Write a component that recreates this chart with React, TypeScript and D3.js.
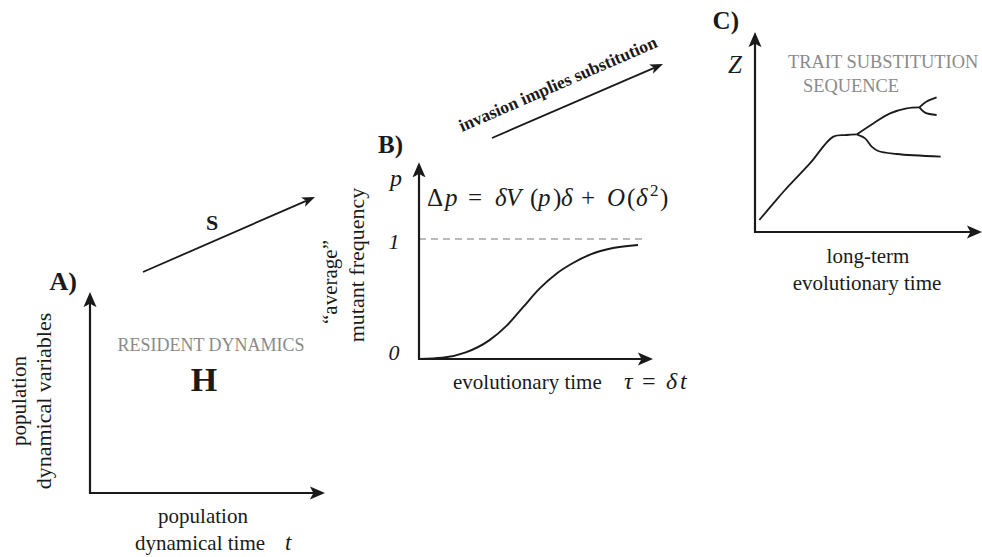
import React from 'react';
import * as d3 from 'd3';

const W = 982;
const H = 557;

// Panel B: sigmoid trajectory of "average" mutant frequency over evolutionary time
const bTime = [0, 1, 2, 3, 3.76, 4.44, 5.17, 5.9, 6.58, 7.31, 8.29, 9.36];
const bFreq = [0, 0.01, 0.055, 0.155, 0.28, 0.43, 0.59, 0.715, 0.8, 0.87, 0.925, 0.95];
const bTickValues = [0, 1];
const bTickLabels = ['0', '1'];

// Panel C: trait substitution sequence (time, trait)
const cTrunkT = [1.9, 8.1, 13.2, 24.2, 34.5, 40.4, 44.8];
const cTrunkZ = [6, 14.3, 21, 34.3, 47.7, 48.5, 48.8];
const cUpperT = [44.8, 52.1, 59.5, 66.8, 72.4];
const cUpperZ = [48.8, 54.3, 59.3, 61.8, 62.3];
const cUpperUpT = [72.4, 75.6, 80];
const cUpperUpZ = [62.3, 65.2, 67.3];
const cUpperDownT = [72.4, 74.9, 80];
const cUpperDownZ = [62.3, 59.7, 58.5];
const cLowerT = [44.8, 48.5, 51.4, 54.3, 62.4, 81.8];
const cLowerZ = [48.8, 46.8, 42.7, 40.5, 39, 37.7];

const SERIF = "'Liberation Serif', 'Times New Roman', serif";
const INK = '#1a1a1a';
const GREY = '#8a8a8a';

function arrowHead(x: number, y: number, angleDeg: number, len = 15, half = 6.5, notch = 4) {
  const a = (angleDeg * Math.PI) / 180;
  const ux = Math.cos(a), uy = Math.sin(a);
  const px = -uy, py = ux;
  const bx = x - ux * len, by = y - uy * len;
  const nx = x - ux * (len - notch), ny = y - uy * (len - notch);
  return `M${x},${y}L${bx + px * half},${by + py * half}Q${nx - ux * 1},${ny - uy * 1} ${nx},${ny}Q${nx - ux * 1},${ny - uy * 1} ${bx - px * half},${by - py * half}Z`;
}

function Arrow({ x1, y1, x2, y2, w = 2.2, len = 15, half = 6.5 }: any) {
  const ang = (Math.atan2(y2 - y1, x2 - x1) * 180) / Math.PI;
  const d = Math.hypot(x2 - x1, y2 - y1);
  const t = (d - (len - 4)) / d;
  return (
    <g>
      <line x1={x1} y1={y1} x2={x1 + (x2 - x1) * t} y2={y1 + (y2 - y1) * t} stroke={INK} strokeWidth={w} />
      <path d={arrowHead(x2, y2, ang, len, half)} fill={INK} />
    </g>
  );
}

function T(p: any) {
  const { style, ...rest } = p;
  return <text fill={INK} {...rest} style={{ fontFamily: SERIF, whiteSpace: 'pre', ...(style || {}) }} />;
}

export default function App() {
  const xA = d3.scaleLinear().domain([0, 1]).range([90, 325]);
  const yA = d3.scaleLinear().domain([0, 1]).range([493, 292]);
  const xB = d3.scaleLinear().domain([0, 10]).range([419, 653]);
  const yB = d3.scaleLinear().domain([0, 1]).range([359, 239]);
  const xC = d3.scaleLinear().domain([0, 100]).range([755, 982]);
  const yC = d3.scaleLinear().domain([0, 100]).range([232, 32]);

  const lineB = d3
    .line<number>()
    .x((_, i) => xB(bTime[i]))
    .y((v) => yB(v))
    .curve(d3.curveMonotoneX);

  const lineC = (ts: number[], zs: number[]) =>
    d3
      .line<number>()
      .x((_, i) => xC(ts[i]))
      .y((v) => yC(v))
      .curve(d3.curveCatmullRom.alpha(0.5))(zs) || '';

  return (
    <svg width={W} height={H} style={{ position: 'absolute', left: 0, top: 0, background: '#fff' }}>
      <rect width={W} height={H} fill="#fff" />

      {/* ---------- Panel A ---------- */}
      <Arrow x1={xA(0)} y1={yA(0) + 1} x2={xA(0)} y2={yA(1)} />
      <Arrow x1={xA(0) - 1} y1={yA(0)} x2={xA(1)} y2={yA(0)} />
      <T x={77} y={290} fontSize={26} fontWeight="bold" textAnchor="end">A)</T>
      <T x={211} y={351} fontSize={18} textAnchor="middle" fill={GREY}>RESIDENT DYNAMICS</T>
      <T x={204} y={391} fontSize={34} fontWeight="bold" textAnchor="middle">H</T>
      <T transform="translate(26,401) rotate(-90)" fontSize={21} textAnchor="middle">population</T>
      <T transform="translate(51,401) rotate(-90)" fontSize={22} textAnchor="middle">dynamical variables</T>
      <T x={203} y={523} fontSize={21} textAnchor="middle">population</T>
      <T x={135} y={550} fontSize={21}>dynamical time</T>
      <T x={285} y={550} fontSize={23} fontStyle="italic">t</T>

      <Arrow x1={143} y1={272} x2={315} y2={197} w={1.8} len={13} half={5} />
      <T x={212} y={230} fontSize={22} fontWeight="bold" textAnchor="middle">S</T>

      {/* ---------- Panel B ---------- */}
      <line x1={xB(0)} x2={xB(9.53)} y1={yB(1)} y2={yB(1)} stroke="#777" strokeWidth={1.2} strokeDasharray="7,5" />
      <Arrow x1={xB(0)} y1={yB(0) + 1} x2={xB(0)} y2={yB(1.64)} />
      <Arrow x1={xB(0) - 1} y1={yB(0)} x2={xB(10)} y2={yB(0)} />
      <path d={lineB(bFreq) || ''} fill="none" stroke={INK} strokeWidth={1.9} />
      {bTickValues.map((v, i) => (
        <T key={i} x={394} y={yB(v) + (i === 0 ? 1 : 10)} fontSize={22} fontStyle="italic" textAnchor="middle">
          {bTickLabels[i]}
        </T>
      ))}
      <T x={396} y={186} fontSize={24} fontStyle="italic" textAnchor="middle">p</T>
      <T x={403} y={153} fontSize={25} fontWeight="bold" textAnchor="end">B)</T>
      <T y={206} fontSize={25}>
        <tspan x={427}>Δ</tspan>
        <tspan x={445} fontStyle="italic">p</tspan>
        <tspan x={468}>=</tspan>
        <tspan x={495} fontStyle="italic">δ</tspan>
        <tspan x={506} fontStyle="italic">V</tspan>
        <tspan x={530}>(</tspan>
        <tspan x={538} fontStyle="italic">p</tspan>
        <tspan x={553}>)</tspan>
        <tspan x={561} fontStyle="italic">δ</tspan>
        <tspan x={581}>+</tspan>
        <tspan x={607} fontStyle="italic">O</tspan>
        <tspan x={627}>(</tspan>
        <tspan x={636} fontStyle="italic">δ</tspan>
        <tspan x={650} dy={-10} fontSize={17}>2</tspan>
        <tspan x={660} dy={10}>)</tspan>
      </T>
      <T transform="translate(337,282) rotate(-90)" fontSize={21} textAnchor="middle">“average”</T>
      <T transform="translate(364,265) rotate(-90)" fontSize={22} textAnchor="middle">mutant frequency</T>
      <T x={453} y={389} fontSize={21}>evolutionary time</T>
      <T y={389} fontSize={24}>
        <tspan x={624} fontStyle="italic">τ</tspan>
        <tspan x={642}>=</tspan>
        <tspan x={666} fontStyle="italic">δ</tspan>
        <tspan x={680} fontStyle="italic">t</tspan>
      </T>

      <Arrow x1={492} y1={138} x2={663} y2={64} w={1.8} len={13} half={5} />
      <T transform="translate(462,132) rotate(-23.5)" fontSize={17.6} fontWeight="bold">
        invasion implies substitution
      </T>

      {/* ---------- Panel C ---------- */}
      <Arrow x1={xC(0)} y1={yC(0) + 1} x2={xC(0)} y2={yC(100)} />
      <Arrow x1={xC(0) - 1} y1={yC(0)} x2={xC(100)} y2={yC(0)} />
      <path d={lineC(cTrunkT, cTrunkZ)} fill="none" stroke={INK} strokeWidth={1.8} />
      <path d={lineC(cUpperT, cUpperZ)} fill="none" stroke={INK} strokeWidth={1.8} />
      <path d={lineC(cUpperUpT, cUpperUpZ)} fill="none" stroke={INK} strokeWidth={1.8} />
      <path d={lineC(cUpperDownT, cUpperDownZ)} fill="none" stroke={INK} strokeWidth={1.8} />
      <path d={lineC(cLowerT, cLowerZ)} fill="none" stroke={INK} strokeWidth={1.8} />
      <T x={739} y={29} fontSize={25} fontWeight="bold" textAnchor="end">C)</T>
      <T x={735} y={73} fontSize={25} fontStyle="italic" textAnchor="middle">Z</T>
      <T x={788} y={68} fontSize={18.4} fill={GREY}>TRAIT SUBSTITUTION</T>
      <T x={803} y={92} fontSize={18.4} fill={GREY}>SEQUENCE</T>
      <T x={868} y={263} fontSize={21} textAnchor="middle">long-term</T>
      <T x={867} y={290} fontSize={21} textAnchor="middle">evolutionary time</T>
    </svg>
  );
}
